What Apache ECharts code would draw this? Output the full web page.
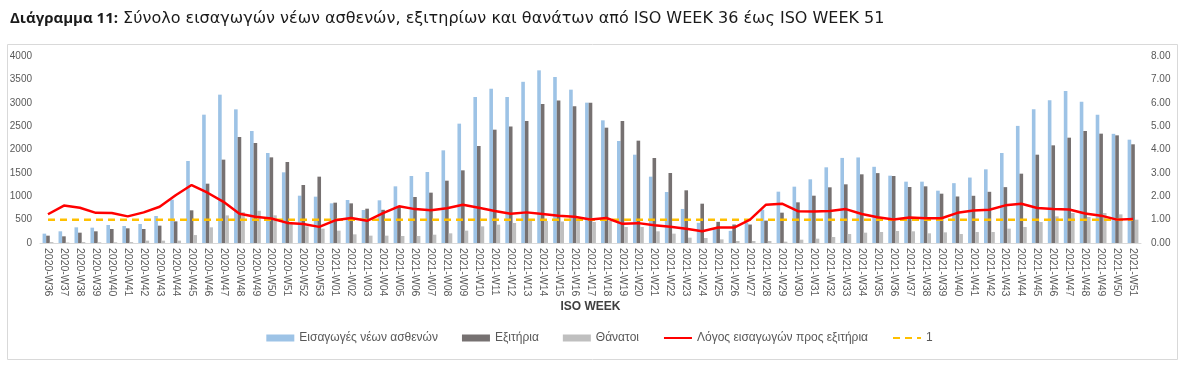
<!DOCTYPE html>
<html>
<head>
<meta charset="utf-8">
<script src="https://cdn.jsdelivr.net/npm/echarts@6/dist/echarts.min.js"></script>
<style>
  html, body { margin: 0; padding: 0; background: #fff; }
  #chart { width: 1199px; height: 377px; }
</style>
</head>
<body>
<div id="chart"></div>
<script>
// ISO εβδομάδες
const weeks = [
  '2020-W36', '2020-W37', '2020-W38', '2020-W39', '2020-W40', '2020-W41', '2020-W42', '2020-W43', '2020-W44',
  '2020-W45', '2020-W46', '2020-W47', '2020-W48', '2020-W49', '2020-W50', '2020-W51', '2020-W52', '2020-W53',
  '2021-W01', '2021-W02', '2021-W03', '2021-W04', '2021-W05', '2021-W06', '2021-W07', '2021-W08', '2021-W09',
  '2021-W10', '2021-W11', '2021-W12', '2021-W13', '2021-W14', '2021-W15', '2021-W16', '2021-W17', '2021-W18',
  '2021-W19', '2021-W20', '2021-W21', '2021-W22', '2021-W23', '2021-W24', '2021-W25', '2021-W26', '2021-W27',
  '2021-W28', '2021-W29', '2021-W30', '2021-W31', '2021-W32', '2021-W33', '2021-W34', '2021-W35', '2021-W36',
  '2021-W37', '2021-W38', '2021-W39', '2021-W40', '2021-W41', '2021-W42', '2021-W43', '2021-W44', '2021-W45',
  '2021-W46', '2021-W47', '2021-W48', '2021-W49', '2021-W50', '2021-W51'
]

// Εισαγωγές νέων ασθενών
const admissions = [
  200, 250, 335, 328, 385, 364, 406, 578, 927,
  1754, 2745, 3173, 2859, 2396, 1925, 1512, 1012, 991,
  848, 920, 706, 913, 1212, 1433, 1519, 1982, 2553,
  3123, 3300, 3123, 3448, 3693, 3551, 3280, 3002, 2624,
  2182, 1889, 1419, 1091, 728, 432, 315, 260, 435,
  713, 1098, 1205, 1362, 1619, 1820, 1830, 1630, 1440,
  1312, 1312, 1119, 1280, 1400, 1576, 1925, 2505, 2859,
  3052, 3251, 3023, 2745, 2335, 2210
]

// Εξιτήρια
const discharges = [
  157, 143, 221, 250, 300, 314, 300, 371, 463,
  699, 1269, 1783, 2267, 2139, 1832, 1733, 1241, 1419,
  863, 848, 734, 710, 772, 984, 1077, 1333, 1554,
  2075, 2424, 2492, 2610, 2973, 3048, 2923, 3002, 2467,
  2610, 2189, 1818, 1497, 1127, 841, 452, 395, 395,
  478, 649, 870, 1012, 1191, 1255, 1469, 1495, 1433,
  1198, 1212, 1055, 995, 1010, 1095, 1195, 1483, 1889,
  2089, 2253, 2396, 2339, 2303, 2111
]

// Θάνατοι
const deaths = [
  20, 10, 20, 15, 15, 20, 50, 50, 50,
  170, 335, 590, 660, 690, 592, 414, 357, 307,
  264, 185, 157, 157, 150, 150, 178, 207, 264,
  356, 392, 428, 485, 470, 460, 470, 450, 470,
  342, 342, 250, 200, 114, 107, 78, 43, 43,
  43, 28, 71, 93, 128, 192, 221, 235, 257,
  250, 207, 228, 192, 235, 235, 307, 342, 449,
  570, 642, 556, 642, 613, 499
]

// Λόγος εισαγωγών προς εξιτήρια
const ratio = [
  1.23, 1.60, 1.51, 1.29, 1.28, 1.14, 1.31, 1.55, 2.04,
  2.48, 2.15, 1.76, 1.25, 1.12, 1.05, 0.86, 0.81, 0.69,
  0.97, 1.07, 0.95, 1.28, 1.57, 1.45, 1.40, 1.49, 1.64,
  1.51, 1.37, 1.25, 1.31, 1.24, 1.17, 1.12, 1.01, 1.07,
  0.82, 0.85, 0.76, 0.70, 0.61, 0.50, 0.66, 0.66, 1.00,
  1.64, 1.68, 1.36, 1.35, 1.37, 1.45, 1.24, 1.10, 1.01,
  1.09, 1.06, 1.06, 1.29, 1.39, 1.42, 1.61, 1.68, 1.50,
  1.45, 1.43, 1.26, 1.17, 1.00, 1.03
]

// γραμμή αναφοράς "1"
const refValue = 1
const refLine = weeks.map(() => refValue)

const leftTicks = { min: 0, max: 4000, interval: 500 }
const rightTicks = { min: 0, max: 8, interval: 1 }

const chart = echarts.init(document.getElementById('chart'))

const axisText = {
  color: '#595959',
  fontSize: 10,
  fontFamily: 'Liberation Sans'
}

const option = {
  animation: false,
  textStyle: { fontFamily: 'Liberation Sans' },
  title: {
    left: 5,
    top: 6,
    text: '{b|Διάγραμμα 11:}{n| Σύνολο εισαγωγών νέων ασθενών, εξιτηρίων και θανάτων από ISO WEEK 36 έως ISO WEEK 51}',
    textStyle: {
      rich: {
        b: { fontWeight: 'bold', fontSize: 15, fontFamily: 'Open Sans', color: '#1a1a1a' },
        n: { fontWeight: 'normal', fontSize: 16, fontFamily: 'DejaVu Sans', color: '#1a1a1a' }
      }
    }
  },
  // πλαίσιο γύρω από το διάγραμμα
  graphic: [
    {
      type: 'rect',
      left: 5,
      top: 42,
      shape: { width: 1170, height: 315 },
      style: { fill: 'none', stroke: '#d9d9d9', lineWidth: 1 },
      silent: true,
      z: -1
    }
  ],
  legend: {
    bottom: 28,
    left: 'center',
    itemGap: 24,
    itemWidth: 28,
    itemHeight: 7,
    textStyle: { color: '#595959', fontSize: 12, fontFamily: 'Liberation Sans' },
    data: [
      { name: 'Εισαγωγές νέων ασθενών', icon: 'rect' },
      { name: 'Εξιτήρια', icon: 'rect' },
      { name: 'Θάνατοι', icon: 'rect' },
      { name: 'Λόγος εισαγωγών προς εξιτήρια', itemStyle: { opacity: 0 } },
      { name: '1', itemStyle: { opacity: 0 } }
    ]
  },
  grid: {
    left: 40,
    right: 58,
    top: 56,
    bottom: 134,
    containLabel: false
  },
  xAxis: {
    type: 'category',
    data: weeks,
    name: 'ISO WEEK',
    nameLocation: 'middle',
    nameGap: 57,
    nameTextStyle: { color: '#404040', fontSize: 12, fontWeight: 'bold', fontFamily: 'Liberation Sans' },
    axisLine: { lineStyle: { color: '#d9d9d9' } },
    axisTick: { show: false },
    axisLabel: Object.assign({ rotate: -90, interval: 0, margin: 5 }, axisText, { fontSize: 10.5 })
  },
  yAxis: [
    {
      type: 'value',
      min: leftTicks.min,
      max: leftTicks.max,
      interval: leftTicks.interval,
      splitLine: { show: false },
      axisLine: { show: false },
      axisTick: { show: false },
      axisLabel: Object.assign({ margin: 8, formatter: v => String(v) }, axisText)
    },
    {
      type: 'value',
      min: rightTicks.min,
      max: rightTicks.max,
      interval: rightTicks.interval,
      splitLine: { show: false },
      axisLine: { show: false },
      axisTick: { show: false },
      axisLabel: Object.assign({
        margin: 10,
        formatter: v => v.toFixed(2)
      }, axisText)
    }
  ],
  series: [
    {
      name: 'Εισαγωγές νέων ασθενών',
      type: 'bar',
      data: admissions,
      barWidth: 3.6,
      barGap: '0%',
      itemStyle: { color: '#9dc3e6' }
    },
    {
      name: 'Εξιτήρια',
      type: 'bar',
      data: discharges,
      barWidth: 3.6,
      barGap: '0%',
      itemStyle: { color: '#767171' }
    },
    {
      name: 'Θάνατοι',
      type: 'bar',
      data: deaths,
      barWidth: 3.6,
      barGap: '0%',
      itemStyle: { color: '#bfbfbf' }
    },
    {
      name: 'Λόγος εισαγωγών προς εξιτήρια',
      type: 'line',
      yAxisIndex: 1,
      data: ratio,
      symbol: 'none',
      lineStyle: { color: '#ff0000', width: 2.5 },
      itemStyle: { color: '#ff0000' },
      z: 5
    },
    {
      name: '1',
      type: 'line',
      yAxisIndex: 1,
      data: refLine,
      symbol: 'none',
      lineStyle: { color: '#ffc000', width: 2.5, type: [7, 5] },
      itemStyle: { color: '#ffc000' },
      z: 4
    }
  ]
}

chart.setOption(option)
</script>
</body>
</html>
